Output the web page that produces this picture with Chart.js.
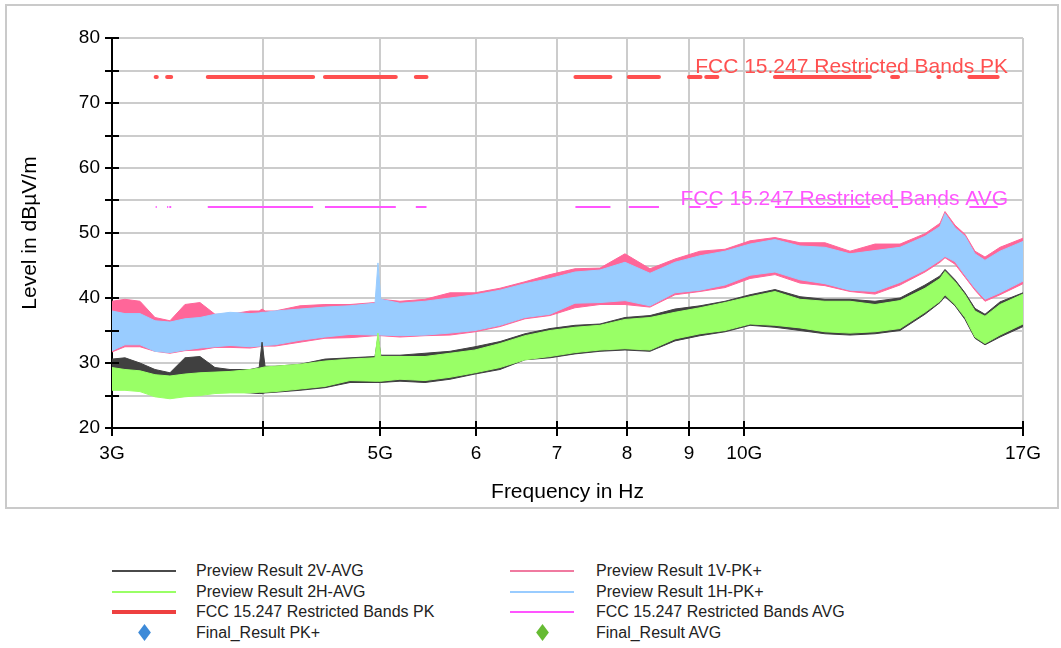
<!DOCTYPE html>
<html>
<head>
<meta charset="utf-8">
<title>Emission scan 3G - 17G</title>
<script src="https://cdn.jsdelivr.net/npm/chart.js@4.4.1/dist/chart.umd.min.js"></script>
<style>
    html, body { margin: 0; padding: 0; background: #fff; }
    body { width: 1061px; height: 648px; position: relative; overflow: hidden;
           font-family: Arial, "Liberation Sans", sans-serif; }
    #frame { position: absolute; left: 5px; top: 4px; width: 1050px; height: 501px;
             border: 2px solid #cacaca; }
    #chartBox { position: absolute; left: 0; top: 0; width: 1061px; height: 510px; }
    .lg-text { position: absolute; font-size: 16px; color: #222; line-height: 20px; white-space: nowrap; }
    .lg-line { position: absolute; width: 64px; }
    .lg-diamond { position: absolute; width: 9px; height: 9px; transform: scaleY(1.35) rotate(45deg); }
</style>
</head>
<body>
<div id="frame"></div>
<div id="chartBox"><canvas id="chart" width="1061" height="510"></canvas></div>
<div id="legend"></div>
<script>
// Frequenzen in GHz (x-Achse logarithmisch)
const freq = [3.0, 3.075, 3.164, 3.256, 3.35, 3.447, 3.547, 3.65, 3.756, 3.902,
              3.97, 3.992, 4.015, 4.092, 4.291, 4.5, 4.72, 4.95, 4.978, 5.005,
              5.191, 5.444, 5.71, 5.988, 6.28, 6.586, 6.907, 7.244, 7.597, 7.967,
              8.356, 8.763, 9.191, 9.639, 10.109, 10.601, 11.118, 11.66, 12.229, 12.825,
              13.451, 14.106, 14.515, 14.654, 14.936, 15.223, 15.515, 15.813, 16.272, 17.0];

// Preview Result 1V-PK+ (oberer / unterer Rand des Rauschbandes)
const pk1vTop = [39.5, 39.8, 39.5, 37.0, 36.5, 39.0, 39.3, 37.5, 37.5, 38.0,
                 38.0, 38.3, 38.0, 38.0, 38.8, 39.0, 39.0, 39.3, 39.5, 39.8,
                 39.5, 39.8, 40.8, 40.8, 41.5, 42.5, 43.6, 44.5, 44.6, 46.8,
                 44.5, 46.0, 47.2, 47.5, 48.8, 49.3, 48.5, 48.5, 47.2, 48.3,
                 48.3, 49.9, 51.5, 53.3, 51.2, 49.8, 47.2, 46.3, 47.8, 49.2];
const pk1vLow = [31.7, 32.5, 32.5, 31.8, 31.5, 31.9, 32.0, 32.4, 32.4, 32.3,
                 32.5, 32.6, 32.6, 32.6, 33.2, 33.8, 33.9, 34.2, 34.2, 34.2,
                 34.0, 34.2, 34.3, 34.8, 35.6, 36.8, 37.3, 38.5, 39.0, 39.0,
                 38.6, 40.5, 41.0, 41.6, 43.0, 43.6, 42.3, 41.9, 41.0, 40.6,
                 42.0, 44.0, 45.5, 46.2, 45.2, 43.2, 41.2, 39.5, 40.5, 42.2];

// Preview Result 1H-PK+
const pk1hTop = [38.0, 37.6, 37.6, 36.5, 36.3, 36.8, 37.0, 37.5, 37.8, 37.6,
                 37.7, 37.8, 37.8, 38.0, 38.3, 38.6, 38.8, 39.2, 45.4, 39.8,
                 39.2, 39.5, 40.0, 40.5, 41.2, 42.2, 43.0, 44.0, 44.3, 45.5,
                 43.8, 45.5, 46.5, 47.2, 48.3, 49.0, 48.0, 47.8, 46.8, 47.3,
                 47.8, 49.5, 51.0, 53.0, 50.8, 49.5, 46.8, 45.8, 47.2, 48.7];
const pk1hLow = [31.9, 32.8, 32.8, 31.8, 31.6, 32.0, 32.3, 32.5, 32.7, 32.5,
                 32.6, 32.6, 32.7, 32.8, 33.5, 34.0, 34.4, 34.3, 34.3, 34.3,
                 34.2, 34.3, 34.6, 35.0, 35.8, 37.0, 37.5, 39.2, 39.3, 39.6,
                 38.8, 40.8, 41.2, 42.0, 43.5, 44.0, 42.8, 42.2, 41.2, 41.0,
                 42.4, 44.3, 45.8, 46.4, 45.6, 43.5, 41.5, 39.8, 40.8, 42.6];

// Preview Result 2V-AVG
const avg2vTop = [30.6, 30.8, 30.0, 29.0, 28.5, 30.8, 31.0, 29.3, 29.0, 29.0,
                  29.3, 33.2, 29.5, 29.5, 29.8, 30.6, 30.8, 31.0, 34.0, 31.2,
                  31.2, 31.5, 31.8, 32.5, 33.3, 34.5, 35.3, 35.8, 36.0, 37.0,
                  37.3, 38.3, 38.8, 39.5, 40.5, 41.3, 40.2, 39.8, 39.8, 39.5,
                  40.0, 42.0, 43.4, 44.4, 42.8, 40.8, 38.4, 37.5, 39.4, 40.8];
const avg2vLow = [26.0, 26.0, 25.8, 25.3, 25.0, 25.3, 25.4, 25.5, 25.6, 25.4,
                  25.3, 25.3, 25.4, 25.5, 25.8, 26.2, 27.0, 27.0, 27.0, 27.0,
                  27.2, 27.0, 27.5, 28.3, 29.0, 30.5, 30.8, 31.4, 31.8, 32.0,
                  31.8, 33.4, 34.2, 34.8, 35.8, 35.5, 35.0, 34.5, 34.3, 34.5,
                  35.0, 37.5, 39.3, 40.2, 38.8, 36.7, 33.8, 32.8, 34.0, 35.6];

// Preview Result 2H-AVG
const avg2hTop = [29.3, 29.0, 28.8, 28.2, 28.0, 28.3, 28.5, 28.6, 28.7, 29.0,
                  29.2, 29.3, 29.4, 29.5, 29.8, 30.3, 30.6, 30.8, 34.6, 31.0,
                  31.0, 31.0, 31.5, 32.0, 33.0, 34.2, 35.0, 35.5, 35.8, 36.7,
                  37.0, 37.8, 38.5, 39.3, 40.2, 41.0, 39.8, 39.5, 39.5, 39.0,
                  39.6, 41.5, 43.0, 44.1, 42.5, 40.5, 38.0, 37.2, 39.0, 40.6];
const avg2hLow = [25.8, 25.8, 25.6, 24.8, 24.5, 24.8, 25.0, 25.3, 25.4, 25.4,
                  25.5, 25.5, 25.5, 25.6, 26.0, 26.4, 27.3, 27.2, 27.2, 27.2,
                  27.5, 27.3, 27.8, 28.5, 29.3, 30.5, 31.0, 31.6, 32.0, 32.2,
                  32.0, 33.7, 34.5, 35.0, 36.0, 35.8, 35.4, 34.8, 34.6, 34.8,
                  35.3, 37.8, 39.5, 40.5, 39.0, 37.0, 34.0, 33.0, 34.3, 36.0];

// Restricted Bands (GHz) und Grenzwerte
const bandStart = [3.26, 3.332, 3.3458, 3.6, 4.5, 5.35, 7.25, 8.025, 9.0, 9.3, 10.6, 13.25, 14.47, 15.35];
const bandEnd   = [3.267, 3.339, 3.358, 4.4, 5.15, 5.46, 7.75, 8.5, 9.2, 9.5, 12.7, 13.4, 14.5, 16.2];
const pkLimit = 74;
const avgLimit = 54;
const pkLimitLabel = 'FCC 15.247 Restricted Bands PK';
const avgLimitLabel = 'FCC 15.247 Restricted Bands AVG';

// Achsenbeschriftung
const xTickValues = [3, 4, 5, 6, 7, 8, 9, 10, 17];
const xTickLabels = ['3G', '', '5G', '6', '7', '8', '9', '10G', '17G'];

// Legende (zwei Spalten)
const legendLabels = ['Preview Result 2V-AVG', 'Preview Result 2H-AVG', 'FCC 15.247 Restricted Bands PK', 'Final_Result PK+',
                      'Preview Result 1V-PK+', 'Preview Result 1H-PK+', 'FCC 15.247 Restricted Bands AVG', 'Final_Result AVG'];
const legendColors = ['#4a4a4a', '#99ff66', '#ee4040', '#3d8ad8', '#f07aa0', '#99ccff', '#ff55ff', '#66bb33'];
const legendKinds  = ['line', 'line', 'thick', 'diamond', 'line', 'line', 'line', 'diamond'];

const FONT = 'Arial, "Liberation Sans", sans-serif';
const COLORS = {
    pink: '#ff6699',
    blue: '#99ccff',
    dark: '#404040',
    green: '#99ff66',
    pk: '#ff5050',
    avg: '#ff55ff'
};

function toPoints(values) {
    return freq.map((f, i) => ({ x: f, y: values[i] }));
}

function limitPoints(level) {
    const points = [];
    bandStart.forEach((start, i) => {
        points.push({ x: start, y: level });
        points.push({ x: bandEnd[i], y: level });
        points.push({ x: bandEnd[i], y: null });
    });
    return points;
}

function band(label, top, low, color, order) {
    const common = { borderColor: color, backgroundColor: color, borderWidth: 1,
                     pointRadius: 0, tension: 0, order: order };
    return [
        Object.assign({ label: label, data: toPoints(top), fill: '+1' }, common),
        Object.assign({ label: label + ' low', data: toPoints(low), fill: false }, common)
    ];
}

// Kreuzende Tickmarken an beiden Achsen
const axisTicks = {
    id: 'axisTicks',
    afterDraw(chart) {
        const { ctx, chartArea, scales: { x, y } } = chart;
        ctx.save();
        ctx.strokeStyle = '#000';
        ctx.lineWidth = 2;
        ctx.beginPath();
        y.ticks.forEach(t => {
            const py = Math.round(y.getPixelForValue(t.value));
            ctx.moveTo(chartArea.left - 7, py);
            ctx.lineTo(chartArea.left + 7, py);
        });
        x.ticks.forEach(t => {
            const px = Math.round(x.getPixelForValue(t.value));
            ctx.moveTo(px, chartArea.bottom - 7);
            ctx.lineTo(px, chartArea.bottom + 8);
        });
        ctx.stroke();
        ctx.restore();
    }
};

// Beschriftung der Grenzwertlinien
const limitLabels = {
    id: 'limitLabels',
    afterDatasetsDraw(chart) {
        const { ctx, chartArea, scales: { y } } = chart;
        ctx.save();
        ctx.font = '21px ' + FONT;
        ctx.textAlign = 'right';
        ctx.textBaseline = 'alphabetic';
        ctx.fillStyle = COLORS.pk;
        ctx.fillText(pkLimitLabel, chartArea.right - 15, y.getPixelForValue(pkLimit) - 4);
        ctx.fillStyle = COLORS.avg;
        ctx.fillText(avgLimitLabel, chartArea.right - 15, y.getPixelForValue(avgLimit) - 2);
        ctx.restore();
    }
};

const datasets = [].concat(
    band('Preview Result 1V-PK+', pk1vTop, pk1vLow, COLORS.pink, 4),
    band('Preview Result 1H-PK+', pk1hTop, pk1hLow, COLORS.blue, 3),
    band('Preview Result 2V-AVG', avg2vTop, avg2vLow, COLORS.dark, 2),
    band('Preview Result 2H-AVG', avg2hTop, avg2hLow, COLORS.green, 1),
    [{
        label: pkLimitLabel, data: limitPoints(pkLimit), borderColor: COLORS.pk,
        borderWidth: 4, borderCapStyle: 'round', pointRadius: 0, fill: false, order: 0
    }, {
        label: avgLimitLabel, data: limitPoints(avgLimit), borderColor: COLORS.avg,
        borderWidth: 2, borderCapStyle: 'butt', pointRadius: 0, fill: false, order: 0
    }]
);

new Chart(document.getElementById('chart'), {
    type: 'line',
    data: { datasets: datasets },
    options: {
        responsive: false,
        animation: false,
        layout: { padding: { left: 18, right: 38, top: 38, bottom: 5 } },
        plugins: {
            legend: { display: false },
            tooltip: { enabled: false }
        },
        scales: {
            x: {
                type: 'logarithmic',
                min: 3,
                max: 17,
                afterBuildTicks: scale => {
                    scale.ticks = xTickValues.map(v => ({ value: v }));
                },
                afterFit: scale => { scale.height = 77; },
                ticks: {
                    autoSkip: false,
                    maxRotation: 0,
                    minRotation: 0,
                    padding: 14,
                    color: '#000',
                    font: { family: FONT, size: 19 },
                    callback: (value, index) => xTickLabels[index]
                },
                grid: { color: '#cccccc', lineWidth: 2, drawTicks: false },
                border: { color: '#000', width: 2 },
                title: {
                    display: true,
                    text: 'Frequency in Hz',
                    color: '#000',
                    padding: 0,
                    font: { family: FONT, size: 21 }
                }
            },
            y: {
                min: 20,
                max: 80,
                afterFit: scale => { scale.width = 94; },
                ticks: {
                    stepSize: 5,
                    padding: 12,
                    color: '#000',
                    font: { family: FONT, size: 19 },
                    callback: value => (value % 10 === 0 ? String(value) : '')
                },
                grid: { color: '#cccccc', lineWidth: 2, drawTicks: false },
                border: { color: '#000', width: 2 },
                title: {
                    display: true,
                    text: 'Level in dBµV/m',
                    color: '#000',
                    padding: 0,
                    font: { family: FONT, size: 21 }
                }
            }
        }
    },
    plugins: [axisTicks, limitLabels]
});

// Legende als HTML unter dem Diagramm
const legendBox = document.getElementById('legend');
const colLineX = [112, 510];
const colTextX = [196, 596];
const rowY = [571, 592, 612, 633];
legendLabels.forEach((label, i) => {
    const col = Math.floor(i / 4);
    const row = i % 4;
    const kind = legendKinds[i];
    const mark = document.createElement('div');
    if (kind === 'diamond') {
        mark.className = 'lg-diamond';
        mark.style.left = (colLineX[col] + 28) + 'px';
        mark.style.top = (rowY[row] - 5) + 'px';
        mark.style.background = legendColors[i];
    } else {
        const h = kind === 'thick' ? 4 : 2;
        mark.className = 'lg-line';
        mark.style.left = colLineX[col] + 'px';
        mark.style.top = (rowY[row] - h / 2) + 'px';
        mark.style.height = h + 'px';
        mark.style.background = legendColors[i];
    }
    legendBox.appendChild(mark);

    const text = document.createElement('div');
    text.className = 'lg-text';
    text.style.left = colTextX[col] + 'px';
    text.style.top = (rowY[row] - 10) + 'px';
    text.textContent = label;
    legendBox.appendChild(text);
});
</script>
</body>
</html>
